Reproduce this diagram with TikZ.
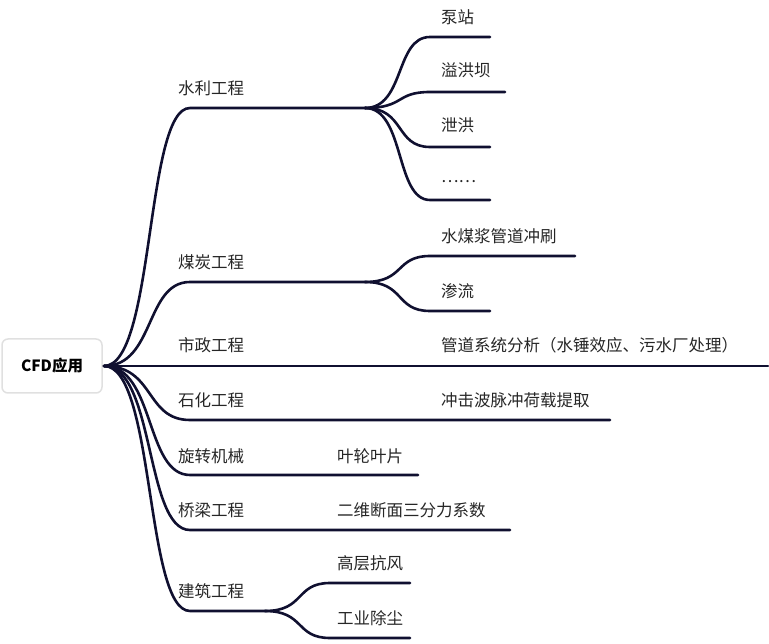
\documentclass[tikz,border=0pt]{standalone}
\usepackage{fontspec}
\newfontfamily\cjk{Noto Sans CJK SC}
\begin{document}
\begin{tikzpicture}[x=1pt,y=-1pt,
  lab/.style={anchor=west,inner sep=0pt,font=\cjk\fontsize{16.5}{18}\selectfont,text=black!85},
  br/.style={line width=2.6pt,draw={rgb,255:red,16;green,16;blue,48},line cap=round}]
\useasboundingbox (0,0) rectangle (769,644);
\node[draw=black!12,line width=1.5pt,rounded corners=6pt,minimum width=100pt,minimum height=54pt,font=\cjk\bfseries\fontsize{15.5}{18}\selectfont] (root) at (52,366) {CFD应用};
\coordinate (r) at (104,366);
% level 1 labels
\node[lab] (a) at (178,88) {水利工程};
\node[lab] (b) at (178,262) {煤炭工程};
\node[lab] (c) at (178,345) {市政工程};
\node[lab] (d) at (178,400) {石化工程};
\node[lab] (e) at (178,456) {旋转机械};
\node[lab] (f) at (178,510) {桥梁工程};
\node[lab] (g) at (178,591) {建筑工程};
% leaf labels
\node[lab] (a1) at (441,17) {泵站};
\node[lab] (a2) at (441,70) {溢洪坝};
\node[lab] (a3) at (441,125) {泄洪};
\node[lab] (a4) at (441,182) {……};
\node[lab] (b1) at (441,236) {水煤浆管道冲刷};
\node[lab] (b2) at (441,291) {渗流};
\node[lab] (c1) at (441,345) {管道系统分析（水锤效应、污水厂处理）};
\node[lab] (d1) at (441,400) {冲击波脉冲荷载提取};
\node[lab] (e1) at (337,456) {叶轮叶片};
\node[lab] (f1) at (337,510) {二维断面三分力系数};
\node[lab] (g1) at (337,563) {高层抗风};
\node[lab] (g2) at (337,618) {工业除尘};
% coordinates
\coordinate (ae) at (365,108);
\coordinate (be) at (365,282);
\coordinate (ce) at (768,366);
\coordinate (de) at (610,420);
\coordinate (ee) at (418,475);
\coordinate (fe) at (510,530);
\coordinate (ge) at (265,611);
% root branches
\foreach \y/\e in {108/ae,282/be,420/de,475/ee,530/fe,611/ge}{
  \draw[br] (r) .. controls (155,366) and (145,\y) .. (190,\y) -- (\e);
}
\draw[br] (r) -- (ce);
% sub branches
\foreach \s/\y/\x in {ae/37/490,ae/92/505,ae/147/490,ae/200/490}{
  \draw[br] (\s) .. controls (405,108) and (395,\y) .. (430,\y) -- (\x,\y);
}
\foreach \y/\x in {256/575,311/490}{
  \draw[br] (be) .. controls (405,282) and (395,\y) .. (430,\y) -- (\x,\y);
}
\foreach \y in {583,638}{
  \draw[br] (ge) .. controls (305,611) and (295,\y) .. (330,\y) -- (410,\y);
}
\end{tikzpicture}
\end{document}
